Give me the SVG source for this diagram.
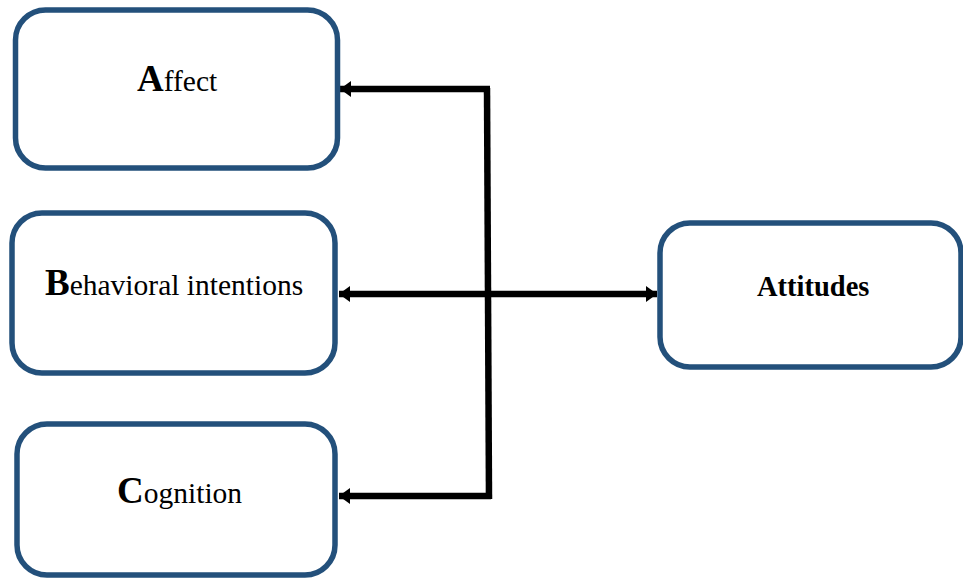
<svg xmlns="http://www.w3.org/2000/svg" width="963" height="579" viewBox="0 0 963 579">
<style>
.box{fill:#fff;stroke:#23507b;stroke-width:5.5}
text{font-family:"Liberation Serif","Times New Roman",serif;fill:#000}
.t{font-size:29.5px}
.cap{font-weight:bold;font-size:37px}
.b{font-weight:bold;font-size:28.5px}
.ln{fill:none;stroke:#000;stroke-width:6.5}
</style>
<defs>
<marker id="ah" markerUnits="userSpaceOnUse" viewBox="0 0 11 16" refX="11" refY="8" markerWidth="11" markerHeight="16" orient="auto-start-reverse">
<path d="M0,0 L11,8 L0,16 Z" fill="#000"/>
</marker>
</defs>
<rect width="963" height="579" fill="#fff"/>
<g id="connectors">
<path class="ln" d="M487,88 L489,499" stroke-width="5"/>
<path class="ln" d="M490,89 L340,89" marker-end="url(#ah)"/>
<path class="ln" d="M491,496 L339,496" marker-end="url(#ah)"/>
<path class="ln" d="M339,294 L657,294" marker-start="url(#ah)" marker-end="url(#ah)"/>
</g>
<g id="affect">
<rect class="box" x="15.5" y="10" width="322" height="158" rx="30"/>
<text class="t" x="137" y="91"><tspan class="cap">A</tspan>ffect</text>
</g>
<g id="behavioral">
<rect class="box" x="12" y="213" width="323" height="160" rx="30"/>
<text class="t" x="45" y="295"><tspan class="cap">B</tspan>ehavioral intentions</text>
</g>
<g id="cognition">
<rect class="box" x="17" y="424" width="318" height="151" rx="30"/>
<text class="t" x="117" y="503"><tspan class="cap">C</tspan>ognition</text>
</g>
<g id="attitudes">
<rect class="box" x="660" y="223" width="301" height="144" rx="30"/>
<text class="b" x="757" y="296">Attitudes</text>
</g>
</svg>
